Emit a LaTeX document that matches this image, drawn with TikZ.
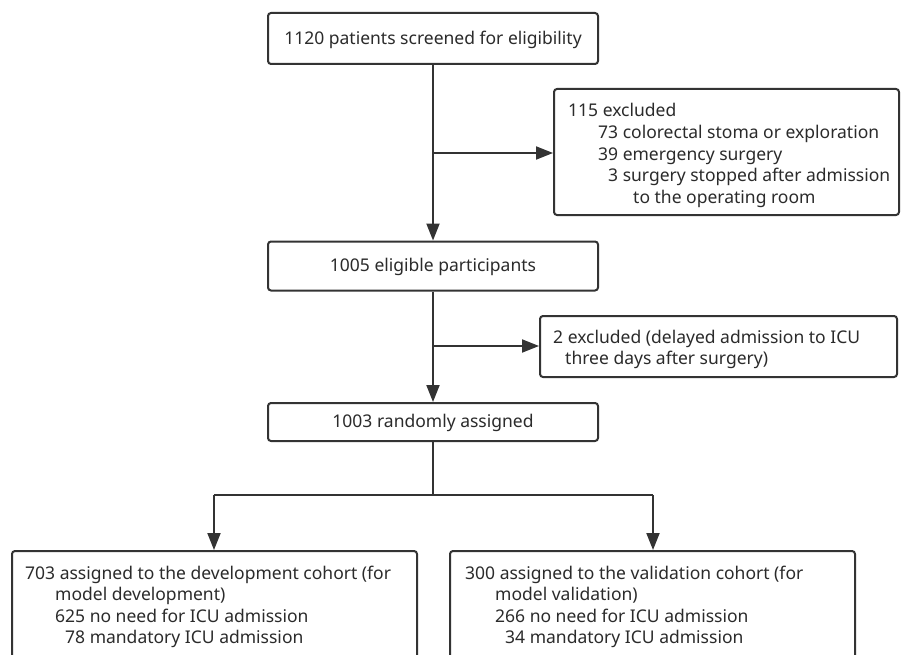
\documentclass[tikz,border=0pt]{standalone}
\usepackage{fontspec}
\setmainfont{Noto Sans}
\usetikzlibrary{arrows.meta}
\definecolor{linec}{HTML}{333333}
\definecolor{textc}{HTML}{2B2B2B}
\begin{document}
\begin{tikzpicture}[x=1pt,y=-1pt,
  box/.style={draw=linec, line width=2pt, rounded corners=3pt, fill=white, inner sep=0pt},
  txt/.style={font=\fontsize{17.5}{21.5}\selectfont, text=textc, inner sep=0pt, align=left},
  ctxt/.style={font=\fontsize{17.5}{21.5}\selectfont, text=textc, inner sep=0pt},
  conn/.style={draw=linec, line width=2pt},
  arr/.style={draw=linec, line width=2pt, -{Triangle[length=17pt,width=13pt]}}
]
\useasboundingbox (0,0) rectangle (901,655);
\begin{scope}
\clip (0,0) rectangle (901,655);
% main boxes
\node[box, minimum width=330pt, minimum height=51pt] (b1) at (433,38.5) {};
\node[ctxt] (t1) at (433,39.5) {1120 patients screened for eligibility};
\node[box, minimum width=330pt, minimum height=49pt] (b2) at (433,266) {};
\node[ctxt] (t2) at (433,267) {1005 eligible participants};
\node[box, minimum width=330pt, minimum height=38pt] (b3) at (433,422) {};
\node[ctxt] (t3) at (433,423) {1003 randomly assigned};
% exclusion boxes
\node[box, minimum width=345pt, minimum height=126pt] (e1) at (726.5,152) {};
\node[txt, anchor=north west] (te1) at (568,103.5) {115 excluded\\
\hspace*{30pt}73 colorectal stoma or exploration\\
\hspace*{30pt}39 emergency surgery\\
\hspace*{40pt}3 surgery stopped after admission\\
\hspace*{65pt}to the operating room};
\node[box, minimum width=357pt, minimum height=61pt] (e2) at (718.5,346.5) {};
\node[txt, anchor=north west] (te2) at (553,329.5) {2 excluded (delayed admission to ICU\\
\hspace*{12pt}three days after surgery)};
% bottom boxes (cut off by the page)
\node[box, minimum width=405pt, minimum height=140pt, anchor=north] (d) at (214.5,550) {};
\node[txt, anchor=north west] (td) at (25,565.5) {703 assigned to the development cohort (for\\
\hspace*{30pt}model development)\\
\hspace*{30pt}625 no need for ICU admission\\
\hspace*{40pt}78 mandatory ICU admission};
\node[box, minimum width=405pt, minimum height=140pt, anchor=north] (v) at (652.5,550) {};
\node[txt, anchor=north west] (tv) at (465,565.5) {300 assigned to the validation cohort (for\\
\hspace*{30pt}model validation)\\
\hspace*{30pt}266 no need for ICU admission\\
\hspace*{40pt}34 mandatory ICU admission};
% connectors
\coordinate (j1) at (433,153);
\coordinate (j2) at (433,346);
\coordinate (j3) at (433,495);
\coordinate (jl) at (214,495);
\coordinate (jr) at (653,495);
\draw[arr] (b1.south) -- (b2.north);
\draw[arr] (j1) -- (e1.west |- j1);
\draw[arr] (b2.south) -- (b3.north);
\draw[arr] (j2) -- (e2.west |- j2);
\draw[conn] (b3.south) -- (j3);
\draw[conn] (jl) -- (jr);
\draw[arr] (jl) -- (jl |- d.north);
\draw[arr] (jr) -- (jr |- v.north);
\end{scope}
\end{tikzpicture}
\end{document}
